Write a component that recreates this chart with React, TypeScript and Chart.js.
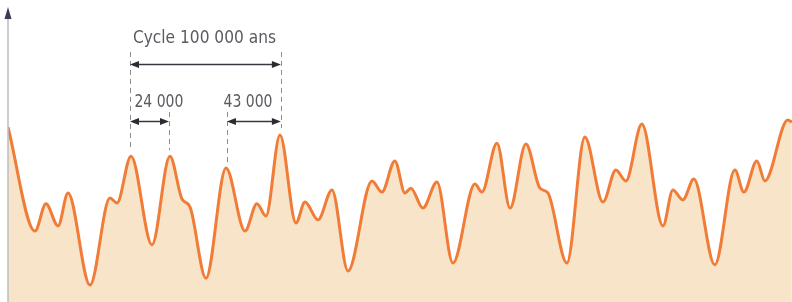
import React, { useEffect, useRef } from "react";
import { Chart, registerables } from "chart.js";

Chart.register(...registerables);

// Time in thousands of years (ka) and relative amplitude (0-100)
const times = [
  0, 17.9, 25.2, 33.2, 39.8, 54.4, 67.6, 72.3, 81.6, 95.5, 107.4, 115.4, 120.7,
  131.3, 144.6, 157.2, 165.1, 171.1, 180.4, 191.0, 197.0, 205.6, 214.9, 225.5,
  241.4, 248.0, 256.6, 263.3, 267.2, 275.2, 284.5, 295.1, 309.7, 314.3, 324.3,
  333.0, 343.5, 352.8, 358.1, 370.7, 382.6, 394.6, 403.2, 409.8, 420.4, 434.4,
  441.0, 447.6, 454.9, 468.8, 482.1, 488.1, 496.7, 502.0, 517.2, 519.9,
];
const values = [
  57.9, 23.5, 32.5, 25.2, 36.1, 5.6, 34.4, 32.8, 48.3, 18.9, 48.3, 34.1, 31.5,
  7.9, 44.4, 23.5, 32.5, 28.5, 55.3, 26.2, 33.1, 27.2, 37.1, 10.3,
  40.1, 36.4, 46.7, 36.1, 37.7, 31.1, 39.7, 12.9, 39.1, 36.4, 52.6,
  31.1, 52.3, 37.7, 36.1, 12.9, 54.6, 33.1, 43.7, 40.1, 58.9, 25.2,
  37.1, 33.8, 40.7, 12.3, 43.7, 36.4, 46.7, 40.1, 60.3, 59.6,
];

// Annotations: spans [start, end] in ka
const cycleLabel = "Cycle 100 000 ans";
const cycleSpan = [80.9, 181.0];
const cycleLabelCenter = 130.3;
const shortLabels = ["24 000", "43 000"];
const shortSpans = [
  [80.9, 106.8],
  [145.2, 181.0],
];
const shortLabelCenters = [100.1, 159.2];
// dashed guide lines: [time, topValue, bottomValue]
const guideLines = [
  [80.9, 82.8, 50.3],
  [181.0, 82.8, 57.6],
  [106.8, 62.9, 50.3],
  [145.2, 62.9, 46.0],
];

const annotationPlugin = {
  id: "cycleAnnotations",
  afterDatasetsDraw(chart: any) {
    const ctx = chart.ctx as CanvasRenderingContext2D;
    const xs = chart.scales.x;
    const ys = chart.scales.y;
    const area = chart.chartArea;
    ctx.save();

    // vertical axis with arrow
    ctx.strokeStyle = "#bdbdbd";
    ctx.lineWidth = 1.5;
    ctx.beginPath();
    ctx.moveTo(area.left, 16);
    ctx.lineTo(area.left, area.bottom);
    ctx.stroke();
    ctx.fillStyle = "#3a3d52";
    ctx.beginPath();
    ctx.moveTo(area.left, 7);
    ctx.lineTo(area.left - 3.5, 19);
    ctx.lineTo(area.left + 3.5, 19);
    ctx.closePath();
    ctx.fill();

    // dashed guides
    ctx.strokeStyle = "#8c8c8c";
    ctx.lineWidth = 1;
    ctx.setLineDash([5, 4]);
    for (const [t, top, bot] of guideLines) {
      const x = Math.round(xs.getPixelForValue(t)) + 0.5;
      ctx.beginPath();
      ctx.moveTo(x, ys.getPixelForValue(top));
      ctx.lineTo(x, ys.getPixelForValue(bot));
      ctx.stroke();
    }
    ctx.setLineDash([]);

    const drawArrow = (t0: number, t1: number, v: number) => {
      const x0 = xs.getPixelForValue(t0);
      const x1 = xs.getPixelForValue(t1);
      const y = Math.round(ys.getPixelForValue(v)) + 0.5;
      ctx.strokeStyle = "#3b3540";
      ctx.fillStyle = "#2e2a33";
      ctx.lineWidth = 1.3;
      ctx.beginPath();
      ctx.moveTo(x0 + 4, y);
      ctx.lineTo(x1 - 4, y);
      ctx.stroke();
      const L = 9, H = 3.5;
      ctx.beginPath();
      ctx.moveTo(x0, y);
      ctx.lineTo(x0 + L, y - H);
      ctx.lineTo(x0 + L, y + H);
      ctx.closePath();
      ctx.fill();
      ctx.beginPath();
      ctx.moveTo(x1, y);
      ctx.lineTo(x1 - L, y - H);
      ctx.lineTo(x1 - L, y + H);
      ctx.closePath();
      ctx.fill();
    };

    drawArrow(cycleSpan[0], cycleSpan[1], 78.8);
    shortSpans.forEach((s) => drawArrow(s[0], s[1], 59.9));

    ctx.fillStyle = "#5c5a61";
    ctx.textAlign = "center";
    ctx.textBaseline = "alphabetic";
    ctx.font = '18px "Liberation Sans Narrow", "Arial Narrow", "DejaVu Sans Condensed", sans-serif';
    ctx.fillText(cycleLabel, xs.getPixelForValue(cycleLabelCenter), ys.getPixelForValue(85.8), 143);
    shortLabels.forEach((lab, i) => {
      ctx.fillText(lab, xs.getPixelForValue(shortLabelCenters[i]), ys.getPixelForValue(64.6), 49);
    });

    ctx.restore();
  },
};

export default function App() {
  const ref = useRef<HTMLCanvasElement | null>(null);
  useEffect(() => {
    if (!ref.current) return;
    const chart = new Chart(ref.current, {
      type: "line",
      data: {
        datasets: [
          {
            data: times.map((t, i) => ({ x: t, y: values[i] })),
            borderColor: "#f07c38",
            borderWidth: 3,
            backgroundColor: "#f8e5c9",
            fill: "start",
            pointRadius: 0,
            cubicInterpolationMode: "monotone",
          },
        ],
      },
      options: {
        responsive: false,
        animation: false,
        layout: { padding: { left: 8, right: 0, top: 0, bottom: 0 } },
        scales: {
          x: { type: "linear", display: false, min: 0, max: 520 },
          y: { display: false, min: 0, max: 100 },
        },
        plugins: { legend: { display: false }, tooltip: { enabled: false } },
      },
      plugins: [annotationPlugin],
    });
    return () => chart.destroy();
  }, []);
  return (
    <canvas
      ref={ref}
      width={792}
      height={302}
      style={{ position: "fixed", left: 0, top: 0, display: "block", background: "#ffffff" }}
    />
  );
}
